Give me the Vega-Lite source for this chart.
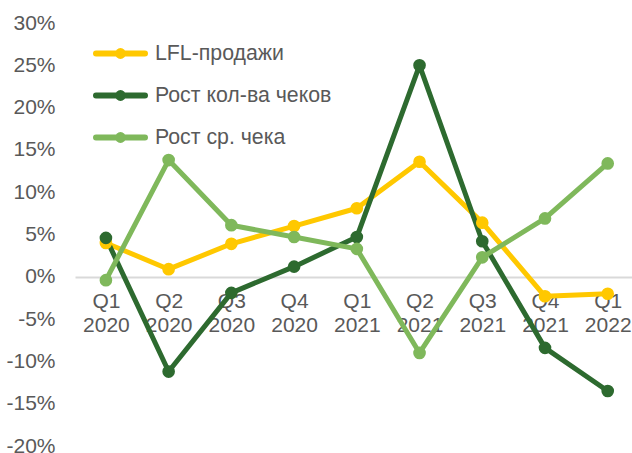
{
  "$schema": "https://vega.github.io/schema/vega-lite/v6.json",
  "width": 557,
  "height": 423,
  "autosize": {"type": "none"},
  "padding": {"left": 75, "top": 23, "right": 0, "bottom": 7},
  "background": "white",
  "config": {"view": {"stroke": null}},
  "data": {
    "values": [
      {"q": "Q1 2020", "s": "LFL-продажи", "v": 0.040},
      {"q": "Q2 2020", "s": "LFL-продажи", "v": 0.009},
      {"q": "Q3 2020", "s": "LFL-продажи", "v": 0.039},
      {"q": "Q4 2020", "s": "LFL-продажи", "v": 0.060},
      {"q": "Q1 2021", "s": "LFL-продажи", "v": 0.081},
      {"q": "Q2 2021", "s": "LFL-продажи", "v": 0.136},
      {"q": "Q3 2021", "s": "LFL-продажи", "v": 0.064},
      {"q": "Q4 2021", "s": "LFL-продажи", "v": -0.023},
      {"q": "Q1 2022", "s": "LFL-продажи", "v": -0.020},
      {"q": "Q1 2020", "s": "Рост кол-ва чеков", "v": 0.046},
      {"q": "Q2 2020", "s": "Рост кол-ва чеков", "v": -0.112},
      {"q": "Q3 2020", "s": "Рост кол-ва чеков", "v": -0.019},
      {"q": "Q4 2020", "s": "Рост кол-ва чеков", "v": 0.012},
      {"q": "Q1 2021", "s": "Рост кол-ва чеков", "v": 0.047},
      {"q": "Q2 2021", "s": "Рост кол-ва чеков", "v": 0.250},
      {"q": "Q3 2021", "s": "Рост кол-ва чеков", "v": 0.042},
      {"q": "Q4 2021", "s": "Рост кол-ва чеков", "v": -0.084},
      {"q": "Q1 2022", "s": "Рост кол-ва чеков", "v": -0.135},
      {"q": "Q1 2020", "s": "Рост ср. чека", "v": -0.004},
      {"q": "Q2 2020", "s": "Рост ср. чека", "v": 0.138},
      {"q": "Q3 2020", "s": "Рост ср. чека", "v": 0.061},
      {"q": "Q4 2020", "s": "Рост ср. чека", "v": 0.047},
      {"q": "Q1 2021", "s": "Рост ср. чека", "v": 0.033},
      {"q": "Q2 2021", "s": "Рост ср. чека", "v": -0.090},
      {"q": "Q3 2021", "s": "Рост ср. чека", "v": 0.023},
      {"q": "Q4 2021", "s": "Рост ср. чека", "v": 0.069},
      {"q": "Q1 2022", "s": "Рост ср. чека", "v": 0.134}
    ]
  },
  "mark": {
    "type": "line",
    "strokeWidth": 5,
    "strokeJoin": "round",
    "point": {"filled": true, "size": 160, "opacity": 1}
  },
  "encoding": {
    "x": {
      "field": "q",
      "type": "ordinal",
      "sort": null,
      "scale": {"type": "point", "padding": 0.44, "align": 0.56},
      "axis": {
        "title": null,
        "orient": "bottom",
        "offset": -169,
        "domainColor": "#D9D9D9",
        "domainWidth": 2,
        "ticks": false,
        "grid": false,
        "labelAngle": 0,
        "labelFont": "Liberation Sans",
        "labelFontSize": 21,
        "labelColor": "#595959",
        "labelPadding": 13,
        "labelLineHeight": 24,
        "labelBaseline": "top",
        "labelOverlap": false,
        "labelExpr": "split(datum.label, ' ')"
      }
    },
    "y": {
      "field": "v",
      "type": "quantitative",
      "scale": {"domain": [-0.2, 0.3], "nice": false, "zero": false},
      "axis": {
        "title": null,
        "values": [-0.2, -0.15, -0.1, -0.05, 0, 0.05, 0.1, 0.15, 0.2, 0.25, 0.3],
        "format": ".0%",
        "labelExpr": "replace(datum.label, '−', '-')",
        "domain": false,
        "ticks": false,
        "grid": false,
        "labelFont": "Liberation Sans",
        "labelFontSize": 21,
        "labelColor": "#595959",
        "labelPadding": 20
      }
    },
    "color": {
      "field": "s",
      "type": "nominal",
      "sort": ["LFL-продажи", "Рост кол-ва чеков", "Рост ср. чека"],
      "scale": {
        "domain": ["LFL-продажи", "Рост кол-ва чеков", "Рост ср. чека"],
        "range": ["#FFC800", "#2D6A2F", "#7FB85B"]
      },
      "legend": {
        "title": null,
        "orient": "none",
        "legendX": 18,
        "legendY": 3,
        "symbolType": "M-1,0L1,0M-0.1,0A0.1,0.1,0,1,1,0.1,0A0.1,0.1,0,1,1,-0.1,0Z",
        "symbolSize": 2401,
        "symbolStrokeWidth": 6,
        "labelFont": "Liberation Sans",
        "labelFontSize": 21.3,
        "labelColor": "#595959",
        "labelOffset": 7,
        "labelLimit": 400,
        "rowPadding": 0,
        "encode": {
          "symbols": {
            "update": {
              "fill": {"scale": "color", "field": "value"},
              "stroke": {"scale": "color", "field": "value"},
              "strokeCap": {"value": "round"},
              "opacity": {"value": 1}
            }
          }
        }
      }
    }
  }
}
